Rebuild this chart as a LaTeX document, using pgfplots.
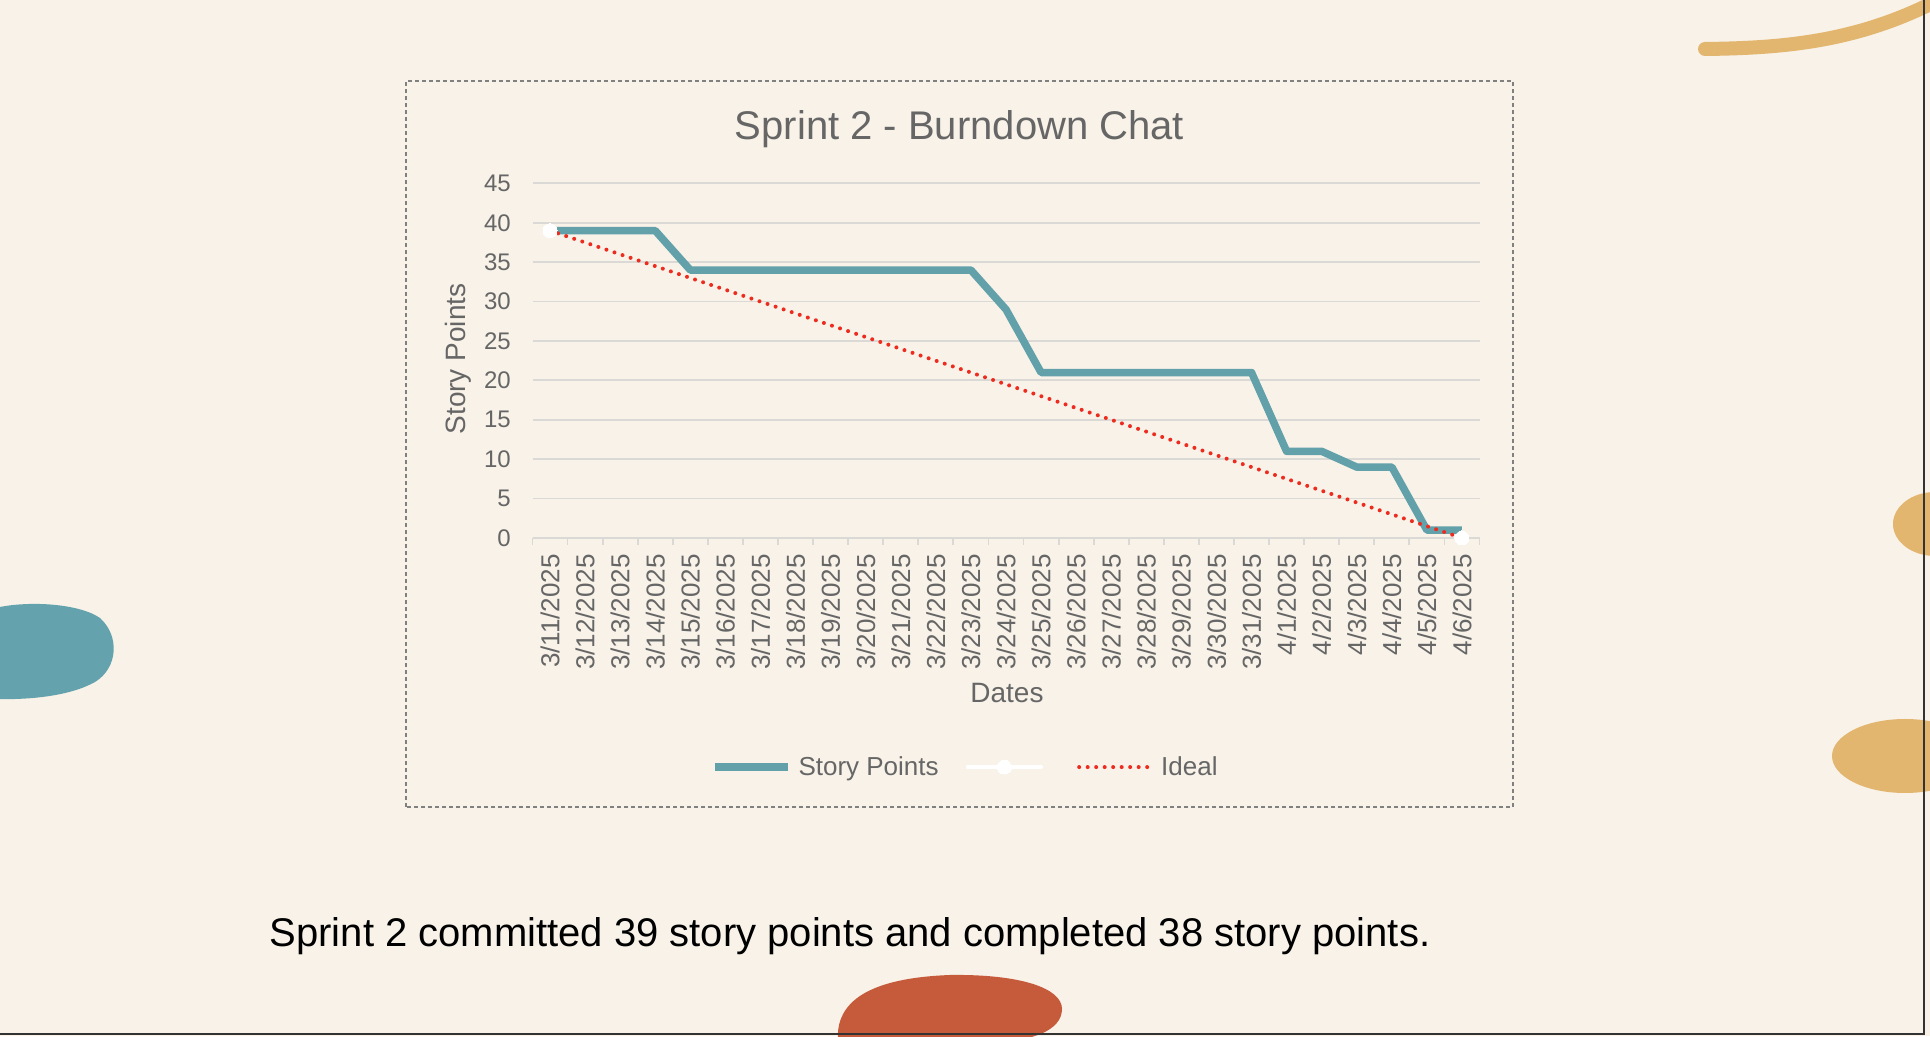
\documentclass[border=0pt]{standalone}
\usepackage{fontspec}
\setmainfont{Liberation Sans}
\usepackage{pgfplots}
\pgfplotsset{compat=1.18}
\definecolor{bg}{HTML}{F8F2E8}
\definecolor{spteal}{HTML}{62A0AA}
\definecolor{idealred}{HTML}{EE2B1F}
\definecolor{gridgray}{HTML}{DAD9D6}
\definecolor{txtgray}{HTML}{666666}
\definecolor{gold}{HTML}{E3B670}
\definecolor{blobteal}{HTML}{64A3AE}
\definecolor{blobred}{HTML}{C65B3B}
\begin{document}
\begin{tikzpicture}[x=1pt,y=1pt]
\clip (0,0) rectangle (1930,1036);
\fill[bg] (0,0) rectangle (1930,1036);
% decorations
\draw[gold, line width=14pt, line cap=round] (1705,987) .. controls (1790,988) and (1870,995) .. (1960,1048);
\fill[gold] (1935,512) ellipse [x radius=42, y radius=32];
\fill[gold] (1905,280) ellipse [x radius=73, y radius=37];
\fill[blobteal] (-5,428) .. controls (30,436) and (80,432) .. (100,418) .. controls (120,400) and (118,368) .. (95,354) .. controls (70,340) and (30,336) .. (-5,337) -- cycle;
\fill[blobred] (838,-5) .. controls (835,35) and (870,58) .. (950,61) .. controls (1020,62) and (1062,48) .. (1062,27) .. controls (1062,5) and (1030,-5) .. (1000,-5) -- cycle;
% chart box
\draw[gray, line width=1.5pt, dash pattern=on 4pt off 3pt] (406,229) rectangle (1513,955);
\node[anchor=base, text=txtgray, font=\fontsize{40}{48}\selectfont] at (959.5,896) {Sprint 2 - Burndown Chat};
\node[anchor=base, text=black, font=\fontsize{40}{48}\selectfont] at (850,89) {Sprint 2 committed 39 story points and completed 38 story points.};
\begin{axis}[
  at={(532.5pt,498pt)}, anchor=south west,
  scale only axis, width=947pt, height=354.6pt,
  xmin=-0.5, xmax=26.5, ymin=0, ymax=45,
  clip=false,
  axis x line*=bottom, axis y line*=left,
  y axis line style={draw=none},
  x axis line style={draw=gridgray, line width=1.8pt},
  ymajorgrids, grid style={draw=gridgray, line width=1.8pt},
  ytick={0,5,...,45},
  xtick={0,...,26},
  xticklabels={3/11/2025,3/12/2025,3/13/2025,3/14/2025,3/15/2025,3/16/2025,3/17/2025,3/18/2025,3/19/2025,3/20/2025,3/21/2025,3/22/2025,3/23/2025,3/24/2025,3/25/2025,3/26/2025,3/27/2025,3/28/2025,3/29/2025,3/30/2025,3/31/2025,4/1/2025,4/2/2025,4/3/2025,4/4/2025,4/5/2025,4/6/2025},
  minor xtick={-0.5,0.5,...,26.5},
  major tick length=0pt, minor tick length=7pt, tick align=outside,
  xtick style={draw=gridgray, line width=1.8pt},
  ytick style={draw=none},
  /pgf/number format/assume math mode=true,
  xticklabel style={rotate=90, anchor=east, inner sep=0pt, text=txtgray, font=\fontsize{26}{30}\selectfont},
  yticklabel style={anchor=east, inner sep=0pt, text=txtgray, font=\fontsize{24}{28}\selectfont},
  xticklabel shift=16pt, yticklabel shift=21.5pt,
  xlabel={Dates}, ylabel={Story Points},
  xlabel style={at={(axis description cs:0.501,-0.437)}, anchor=center, text=txtgray, font=\fontsize{28}{32}\selectfont},
  ylabel style={at={(axis description cs:-0.0787,0.505)}, anchor=center, text=txtgray, font=\fontsize{28}{32}\selectfont},
  legend style={at={(0.457,-0.646)}, anchor=center, draw=none, fill=none, legend columns=3,
    font=\fontsize{26}{30}\selectfont, text=txtgray,
    /tikz/every odd column/.append style={column sep=5pt},
    /tikz/every even column/.append style={column sep=25pt}},
  legend cell align=left,
  legend image code/.code={\draw[mark repeat=2,mark phase=2,#1] plot coordinates {(0pt,0pt) (36.5pt,0pt) (73pt,0pt)};},
]
\addplot[spteal, line width=7.5pt, line join=round] coordinates {
(0,39) (1,39) (2,39) (3,39) (4,34) (5,34) (6,34) (7,34) (8,34) (9,34) (10,34) (11,34) (12,34)
(13,29) (14,21) (15,21) (16,21) (17,21) (18,21) (19,21) (20,21) (21,11) (22,11) (23,9) (24,9) (25,1) (26,1)};
\addlegendentry{Story Points}
\addplot[white, line width=4.5pt, line cap=round, mark=*, mark size=7pt, mark options={fill=white, draw=white, line width=0pt}, unbounded coords=jump] coordinates {(0,39) (1,nan) (26,0)};
\addlegendentry{}
\addplot[idealred, line width=4pt, line cap=round, dash pattern=on 0pt off 8.5pt] coordinates {(0,39) (26,0)};
\addlegendentry{Ideal}
\end{axis}
\draw[black!80, line width=2.5pt] (1924,1040) -- (1924,2) -- (-5,2);
\end{tikzpicture}
\end{document}
